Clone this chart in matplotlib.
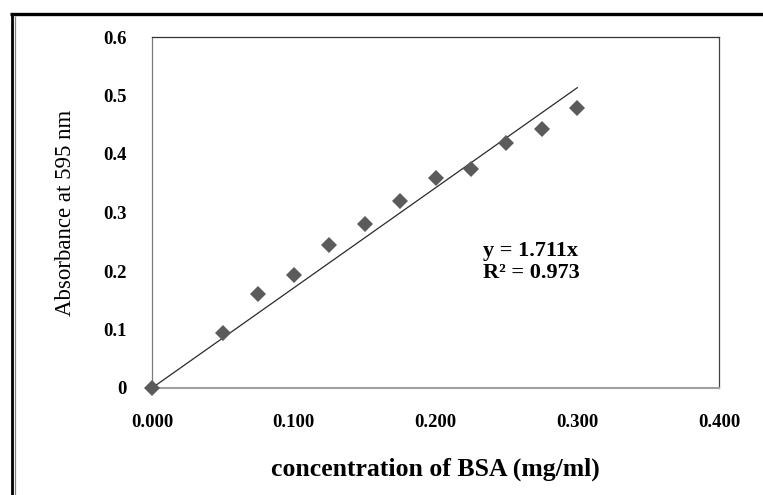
import matplotlib
matplotlib.use("Agg")
import matplotlib.pyplot as plt
import numpy as np
from matplotlib.lines import Line2D

# BSA standard curve (Bradford assay)
conc = [0.0, 0.05, 0.075, 0.1, 0.125, 0.15, 0.175, 0.2, 0.225, 0.25, 0.275, 0.3]
absorb = [0.0, 0.094, 0.160, 0.194, 0.244, 0.281, 0.320, 0.359, 0.375, 0.418, 0.443, 0.479]

slope = 1.711
r2 = 0.973

x_ticks = [0.0, 0.1, 0.2, 0.3, 0.4]
x_ticklabels = ["0.000", "0.100", "0.200", "0.300", "0.400"]
y_ticks = [0.0, 0.1, 0.2, 0.3, 0.4, 0.5, 0.6]
y_ticklabels = ["0", "0.1", "0.2", "0.3", "0.4", "0.5", "0.6"]

plt.rcParams["font.family"] = ["Liberation Serif", "DejaVu Serif"]

fig = plt.figure(figsize=(7.63, 4.95), dpi=100)
ax = fig.add_axes([152 / 763, 107 / 495, 567 / 763, 351 / 495])

# linear trendline through origin
fit_x = np.array([0.0, max(conc)])
ax.plot(fit_x, slope * fit_x, color="#2a2a2a", lw=0.9, zorder=2)
ax.plot(conc, absorb, linestyle="none", marker="D", markersize=8,
        color="#5b5b5b", markeredgewidth=0, zorder=3, clip_on=False)

ax.set_xlim(0, 0.4)
ax.set_ylim(0, 0.6)
ax.set_xticks(x_ticks)
ax.set_xticklabels(x_ticklabels, fontsize=13.5, fontweight="bold")
ax.set_yticks(y_ticks)
ax.set_yticklabels(y_ticklabels, fontsize=13.5, fontweight="bold")
ax.tick_params(axis="x", length=0, pad=19)
ax.tick_params(axis="y", length=0, pad=18)

ax.set_xlabel("concentration of BSA (mg/ml)", fontsize=18.5, fontweight="bold", labelpad=19)
ax.set_ylabel("Absorbance at 595 nm", fontsize=16.5, labelpad=20)

ax.spines["left"].set_color("#7a7a7a")
ax.spines["top"].set_color("#333333")
ax.spines["right"].set_color("#444444")
ax.spines["bottom"].set_color("#a0a0a0")
ax.spines["bottom"].set_linewidth(1.5)
for s in ["left", "top", "right"]:
    ax.spines[s].set_linewidth(0.9)

ax.text(0.2335, 0.215, "y = 1.711x\nR² = %.3f" % r2, fontsize=16, fontweight="bold",
        ha="left", va="center", linespacing=1.15)

# outer chart frame (only top and left edges visible)
fig.add_artist(Line2D([10 / 763, 1.0], [1 - 13.5 / 495, 1 - 13.5 / 495],
                      transform=fig.transFigure, color="black", lw=2.4,
                      solid_capstyle="butt"))
fig.add_artist(Line2D([11.5 / 763, 11.5 / 763], [0, 1 - 13.5 / 495],
                      transform=fig.transFigure, color="black", lw=2.0,
                      solid_capstyle="butt"))
fig.add_artist(Line2D([15.3 / 763, 15.3 / 763], [0, 1 - 15.5 / 495],
                      transform=fig.transFigure, color="#808080", lw=0.9,
                      solid_capstyle="butt"))

fig.savefig("out.png", dpi=100)
